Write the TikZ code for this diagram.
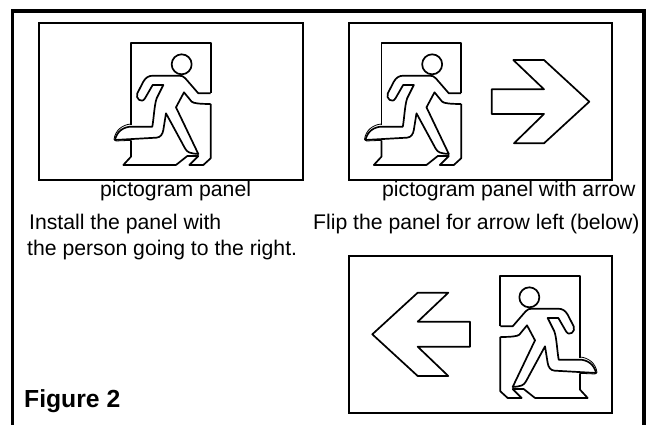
\documentclass[tikz,border=0pt]{standalone}
\usepackage{fontspec}
\setmainfont{Liberation Sans}
\tikzset{
  panel/.style={draw=black,line width=1.5pt},
  frameline/.style={draw=black,line width=3.2pt},
  figline/.style={draw=black,line width=1.7pt,line join=round},
  txt/.style={anchor=base west,inner sep=0pt,font=\fontsize{21.2}{24}\selectfont},
  bold/.style={anchor=base west,inner sep=0pt,font=\fontsize{24.7}{27}\selectfont\bfseries}
}
\newcommand{\runnerfig}{%
  \draw[figline] (275,103) circle (30);
  \draw[figline] (362,190) -- (362,40) -- (123,40) -- (123,285);
  \draw[figline] (123,332) -- (123,380) -- (100,405) -- (258,405) -- (292,378) -- (325,378) -- (298,405) -- (340,405) -- (362,385) -- (362,222);
  \draw[figline] (362,190) -- (325,190) -- (286,145) .. controls (280,138) and (275,137) .. (265,137) -- (190,137) .. controls (175,137) and (167,143) .. (160,155) -- (142,190) .. controls (135,205) and (155,222) .. (165,205) -- (188,165) -- (220,165) -- (200,205) .. controls (193,225) and (192,260) .. (187,290) -- (125,290) .. controls (100,290) and (80,305) .. (75,330) -- (200,323) .. controls (212,322) and (218,312) .. (220,300) -- (228,250) -- (285,355) .. controls (292,368) and (300,370) .. (325,372) -- (258,232) -- (282,187) -- (305,215) .. controls (310,220) and (330,222) .. (362,222);
  \draw[figline,line width=0.8pt] (123,282) .. controls (98,284) and (76,300) .. (72,328) -- (78,333) -- (125,331);
}
\begin{document}
\begin{tikzpicture}[x=1pt,y=-1pt]
\useasboundingbox (0,0) rectangle (649,425);
\draw[frameline] (12.5,425) -- (12.5,11) -- (644,11) -- (644,425);
\draw[panel] (39,23) rectangle (303,180);
\draw[panel] (349,23) rectangle (612,180);
\draw[panel] (349,256) rectangle (612,413);
\begin{scope}[shift={(90,30)},x=0.3333pt,y=-0.3333pt]\runnerfig\end{scope}
\begin{scope}[shift={(340.5,30)},x=0.3333pt,y=-0.3333pt]\runnerfig\end{scope}
\begin{scope}[shift={(621,263)},x=-0.3333pt,y=-0.3333pt]\runnerfig\end{scope}
\draw[figline] (491.7,89.3) -- (544,89.3) -- (513.3,60) -- (544,60) -- (589.3,101.7) -- (544,143.3) -- (514,143.3) -- (544,114) -- (491.7,114) -- cycle;
\draw[figline] (470,321.7) -- (417.7,321.7) -- (448.3,292.7) -- (417.7,292.7) -- (372.3,334.3) -- (417.7,376) -- (448.3,376) -- (417.7,346.7) -- (470,346.7) -- cycle;
\node[txt] (cap1) at (100,197) {pictogram panel};
\node[txt] (cap2) at (382,197) {pictogram panel with arrow};
\node[txt] (inst1) at (29,229.5) {Install the panel with};
\node[txt] (inst2) at (27,255.5) {the person going to the right.};
\node[txt] (flip) at (313,229.5) {Flip the panel for arrow left (below)};
\node[bold] (fig) at (24,407.5) {Figure 2};
\end{tikzpicture}
\end{document}
